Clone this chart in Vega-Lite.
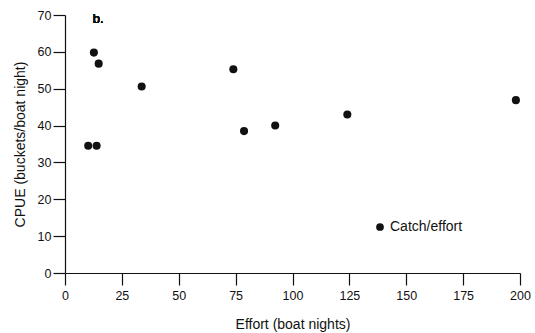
{
  "$schema": "https://vega.github.io/schema/vega-lite/v6.json",
  "width": 455,
  "height": 258,
  "autosize": {"type": "none"},
  "padding": {"left": 65, "top": 15, "right": 15, "bottom": 60},
  "background": "white",
  "config": {
    "view": {"stroke": null},
    "font": "Liberation Sans",
    "axis": {
      "domainColor": "#111",
      "tickColor": "#111",
      "labelColor": "#111",
      "titleColor": "#111",
      "grid": false,
      "labelFont": "Liberation Sans",
      "titleFont": "Liberation Sans",
      "labelFontSize": 12.5,
      "titleFontSize": 14,
      "titleFontWeight": "normal",
      "domainWidth": 1.2,
      "tickWidth": 1.2,
      "labelOverlap": false
    }
  },
  "data": {
    "values": [
      {"effort": 10.2, "cpue": 34.5, "series": "Catch/effort"},
      {"effort": 13.9, "cpue": 34.5, "series": "Catch/effort"},
      {"effort": 12.7, "cpue": 59.8, "series": "Catch/effort"},
      {"effort": 14.8, "cpue": 56.8, "series": "Catch/effort"},
      {"effort": 33.7, "cpue": 50.6, "series": "Catch/effort"},
      {"effort": 74.0, "cpue": 55.3, "series": "Catch/effort"},
      {"effort": 78.7, "cpue": 38.5, "series": "Catch/effort"},
      {"effort": 92.4, "cpue": 40.0, "series": "Catch/effort"},
      {"effort": 124.1, "cpue": 43.0, "series": "Catch/effort"},
      {"effort": 198.2, "cpue": 46.9, "series": "Catch/effort"}
    ]
  },
  "layer": [
    {
      "mark": {"type": "point", "filled": true, "opacity": 1, "size": 65, "shape": "circle"},
      "encoding": {
        "x": {
          "field": "effort", "type": "quantitative",
          "scale": {"domain": [0, 200], "nice": false, "zero": true},
          "axis": {"values": [0, 25, 50, 75, 100, 125, 150, 175, 200], "tickSize": 12, "labelPadding": 4, "titlePadding": 16, "title": "Effort (boat nights)", "labelFlush": false}
        },
        "y": {
          "field": "cpue", "type": "quantitative",
          "scale": {"domain": [0, 70], "nice": false},
          "axis": {"values": [0, 10, 20, 30, 40, 50, 60, 70], "tickCount": 8, "tickSize": 12, "labelPadding": 2, "titlePadding": 10, "title": "CPUE (buckets/boat night)", "labelFlush": false}
        },
        "color": {
          "field": "series", "type": "nominal",
          "scale": {"range": ["#111"]},
          "legend": {
            "title": null,
            "orient": "none",
            "legendX": 308,
            "legendY": 205,
            "padding": 0,
            "symbolType": "circle",
            "symbolSize": 60,
            "symbolStrokeWidth": 0,
            "labelFontSize": 14,
            "labelFont": "Liberation Sans",
            "labelColor": "#111",
            "labelOffset": 3
          }
        }
      }
    },
    {
      "mark": {"type": "text", "text": "b.", "align": "left", "baseline": "alphabetic", "fontSize": 13, "fontWeight": "normal", "color": "#111", "font": "Liberation Sans"},
      "encoding": {
        "x": {"datum": 12.2, "type": "quantitative",
          "axis": {"values": [0, 25, 50, 75, 100, 125, 150, 175, 200], "tickSize": 12, "labelPadding": 4, "titlePadding": 16, "title": "Effort (boat nights)", "labelFlush": false}},
        "y": {"datum": 67.9, "type": "quantitative",
          "axis": {"values": [0, 10, 20, 30, 40, 50, 60, 70], "tickCount": 8, "tickSize": 12, "labelPadding": 2, "titlePadding": 10, "title": "CPUE (buckets/boat night)", "labelFlush": false}}
      }
    }
  ]
}
